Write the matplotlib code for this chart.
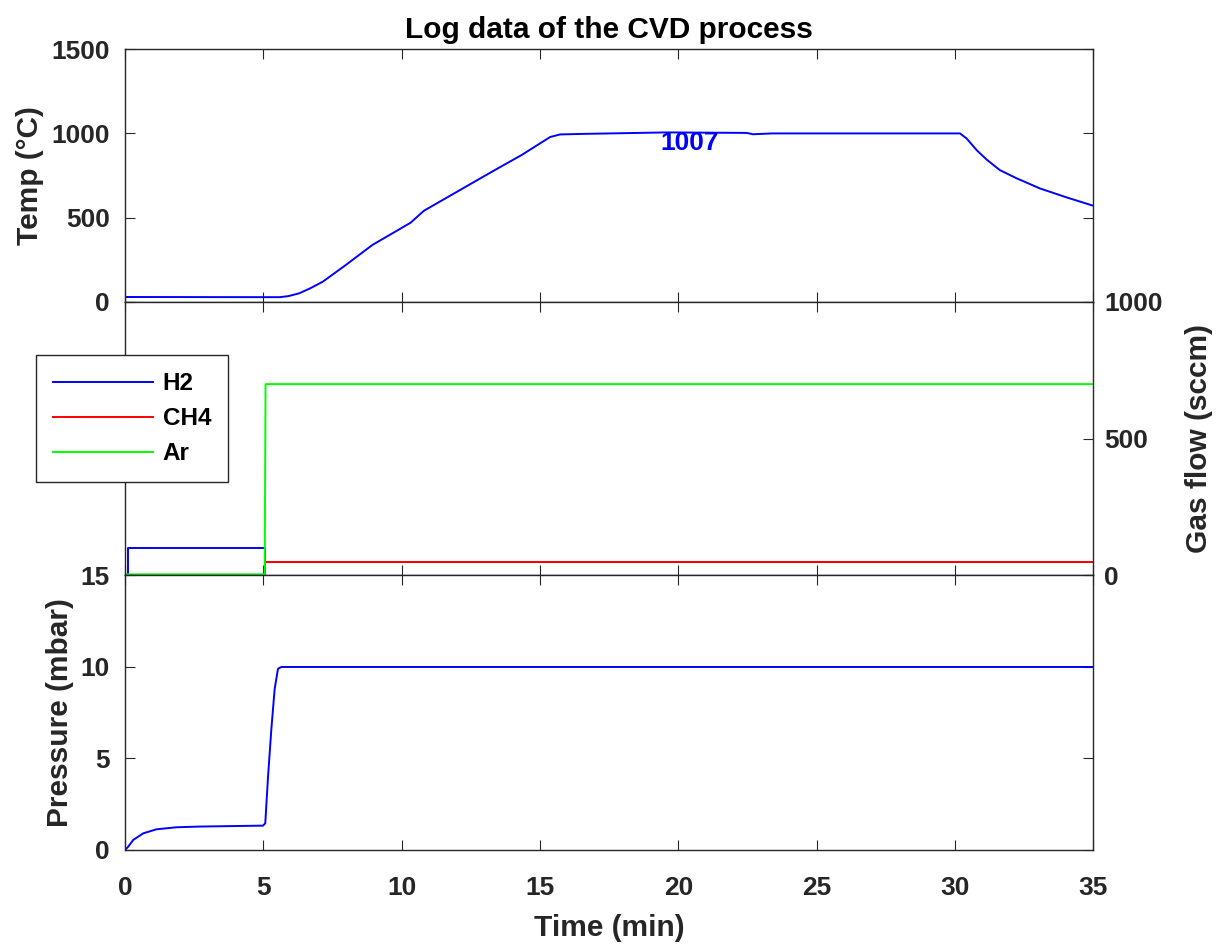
import numpy as np
import matplotlib
matplotlib.use('Agg')
import matplotlib.pyplot as plt

plt.rcParams['font.family'] = ['Liberation Sans', 'DejaVu Sans']
plt.rcParams['font.weight'] = 'bold'
plt.rcParams['axes.labelweight'] = 'bold'
plt.rcParams['axes.titleweight'] = 'bold'

GRIS = '#262626'

# temperatura del horno (min, °C)
t_temp = [0, 5.0, 5.6, 5.9, 6.3, 6.7, 7.15, 7.98, 8.94, 10.32, 10.8, 12.95, 13.57,
          14.33, 15.37, 15.73, 16.5, 19.58, 22.47, 22.7, 23.4, 30.18, 30.42, 30.78,
          31.14, 31.62, 32.23, 33.07, 34.03, 35]
temp = [28, 27, 27, 33, 50, 80, 119, 218, 337, 469, 540, 743, 801,
        871, 979, 994, 997, 1006, 1003, 995, 1000, 1000, 970, 901,
        845, 782, 733, 673, 620, 570]

# flujos de gas (min, sccm)
t_h2 = [0, 0.12, 0.12, 5.05, 5.05, 35]
h2 = [0, 0, 100, 100, 48, 48]
t_ch4 = [0, 5.05, 5.05, 35]
ch4 = [0, 0, 48, 48]
t_ar = [0, 5.05, 5.08, 35]
ar = [4, 4, 699, 699]

# presion (min, mbar)
t_pres = [0, 0.1, 0.3, 0.66, 1.14, 1.86, 2.7, 4.99, 5.07, 5.17, 5.29, 5.41, 5.53, 5.65, 35]
pres = [0, 0.15, 0.55, 0.91, 1.13, 1.24, 1.28, 1.33, 1.46, 4.0, 6.6, 8.8, 9.9, 10.0, 10.0]

xticks = [0, 5, 10, 15, 20, 25, 30, 35]

fig = plt.figure(figsize=(12.17, 9.44), dpi=100)
izq = 0.1027
ancho = 0.7957
ax1 = fig.add_axes([izq, 0.6804, ancho, 0.2674])
ax2 = fig.add_axes([izq, 0.3904, ancho, 0.2900])
ax3 = fig.add_axes([izq, 0.0996, ancho, 0.2908])


def estilo(ax):
	for s in ax.spines.values():
		s.set_color(GRIS)
		s.set_linewidth(1.0)
	ax.tick_params(direction='in', length=7, width=0.8, colors=GRIS,
	               labelsize=19, top=True, bottom=True, left=True, right=True)
	ax.tick_params(axis='y', pad=11)
	ax.tick_params(axis='x', pad=19)
	ax.set_xlim(0, 35)
	ax.set_xticks(xticks)


# temperatura
ax1.plot(t_temp, temp, color=(0, 0, 1), lw=1.4)
estilo(ax1)
ax1.set_ylim(0, 1500)
ax1.set_yticks([0, 500, 1000, 1500])
ax1.tick_params(labelbottom=False)
ax1.set_ylabel('Temp (°C)', fontsize=21.5, color=GRIS, labelpad=5)
ax1.text(20.4, 942, '1007', color=(0, 0, 1), fontsize=19, fontweight='bold',
         ha='center', va='center')
ax1.set_title('Log data of the CVD process', fontsize=21.5, pad=8)

# gases
ax2.plot(t_h2, h2, color=(0, 0, 1), lw=1.4, label='H2')
ax2.plot(t_ch4, ch4, color=(1, 0, 0), lw=1.4, label='CH4')
ax2.plot(t_ar, ar, color=(0, 1, 0), lw=1.4, label='Ar')
estilo(ax2)
ax2.set_ylim(0, 1000)
ax2.set_yticks([0, 500, 1000])
ax2.yaxis.tick_right()
ax2.yaxis.set_label_position('right')
ax2.tick_params(left=True, right=True, labelleft=False, labelright=True, labelbottom=False)
ax2.tick_params(axis='y', pad=8)
ax2.set_ylabel('Gas flow (sccm)', fontsize=21.5, color=GRIS, labelpad=16)
ley = ax2.legend(loc='upper left', bbox_to_anchor=(-0.0919, 0.805), fontsize=17.5,
                 fancybox=False, framealpha=1, edgecolor=GRIS, handlelength=4.1,
                 handletextpad=0.42, borderpad=0.7, labelspacing=0.5, borderaxespad=0)
ley.get_frame().set_linewidth(1.0)

# presion
ax3.plot(t_pres, pres, color=(0, 0, 1), lw=1.4)
estilo(ax3)
ax3.set_ylim(0, 15)
ax3.set_yticks([0, 5, 10, 15])
ax3.set_ylabel('Pressure (mbar)', fontsize=21.5, color=GRIS, labelpad=5)
ax3.set_xlabel('Time (min)', fontsize=21.5, color=GRIS, labelpad=10)

fig.savefig('out.png', dpi=100)
